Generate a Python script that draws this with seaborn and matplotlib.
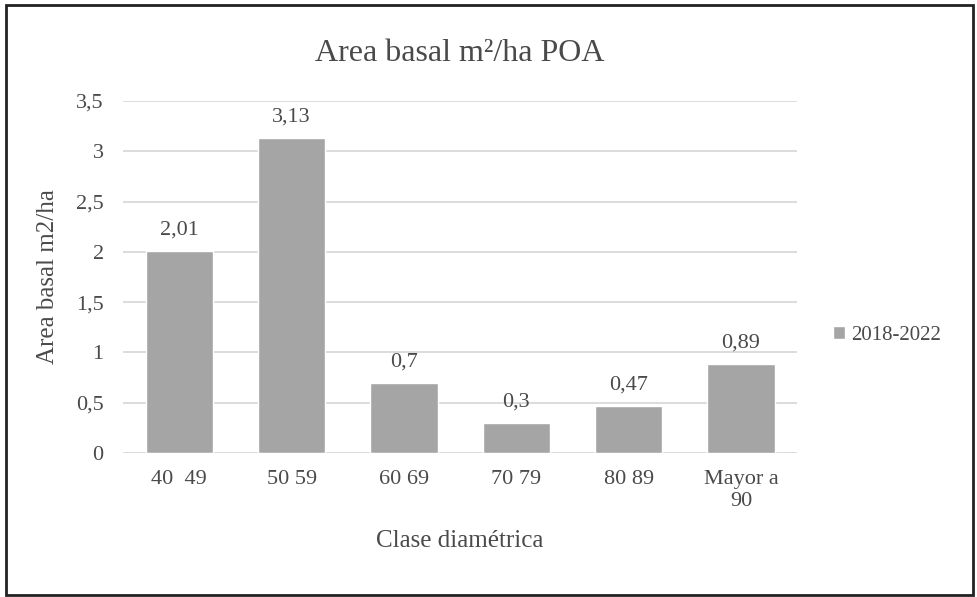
import matplotlib.pyplot as plt
import seaborn as sns
import pandas as pd
from matplotlib.patches import Rectangle

clases = ["40  49", "50 59", "60 69", "70 79", "80 89", "Mayor a\n90"]
area_basal = [2.01, 3.13, 0.7, 0.3, 0.47, 0.89]
serie = "2018-2022"
y_ticks = [0, 0.5, 1, 1.5, 2, 2.5, 3, 3.5]

df = pd.DataFrame({"clase": clases, "valor": area_basal, "serie": serie})

sns.set_theme(style="white")
plt.rcParams["font.family"] = "serif"
plt.rcParams["font.serif"] = ["Liberation Serif", "DejaVu Serif"]
txt = "#4a4a4a"

fig = plt.figure(figsize=(9.77, 5.97), dpi=100)
ax = fig.add_axes([0.126, 0.241, 0.690, 0.590])

sns.barplot(data=df, x="clase", y="valor", hue="serie", palette=["#A5A5A5"],
            width=0.6, ax=ax, legend=True)

ax.set_ylim(0, 3.5)
ax.set_yticks(y_ticks)
ax.set_yticklabels([f"{v:g}".replace(".", ",") for v in y_ticks])
ax.yaxis.grid(True, color="#D9D9D9", linewidth=1.3)
ax.set_axisbelow(True)
for s in ax.spines.values():
    s.set_visible(False)
ax.tick_params(axis="y", length=0, labelsize=16, colors=txt, pad=14)
ax.tick_params(axis="x", length=0, labelsize=16, colors=txt, pad=12)

for cont in ax.containers:
    ax.bar_label(cont, labels=[f"{v:g}".replace(".", ",") for v in area_basal],
                 padding=8, fontsize=16, color=txt)

ax.set_xlabel("Clase diamétrica", fontsize=18, color=txt, labelpad=14)
ax.set_ylabel("Area basal m2/ha", fontsize=18, color=txt, labelpad=12)
ax.set_title("Area basal m²/ha POA", fontsize=23, color=txt, pad=29)

leg = ax.legend(loc="center left", bbox_to_anchor=(1.025, 0.335), frameon=False,
                fontsize=15, handlelength=0.6, handleheight=0.6, handletextpad=0.3)
for t in leg.get_texts():
    t.set_color(txt)

fig.patches.append(Rectangle((0.006, 0.004), 0.99, 0.988, transform=fig.transFigure,
                             fill=False, edgecolor="#222222", linewidth=2))

fig.savefig("out.png", dpi=100)
